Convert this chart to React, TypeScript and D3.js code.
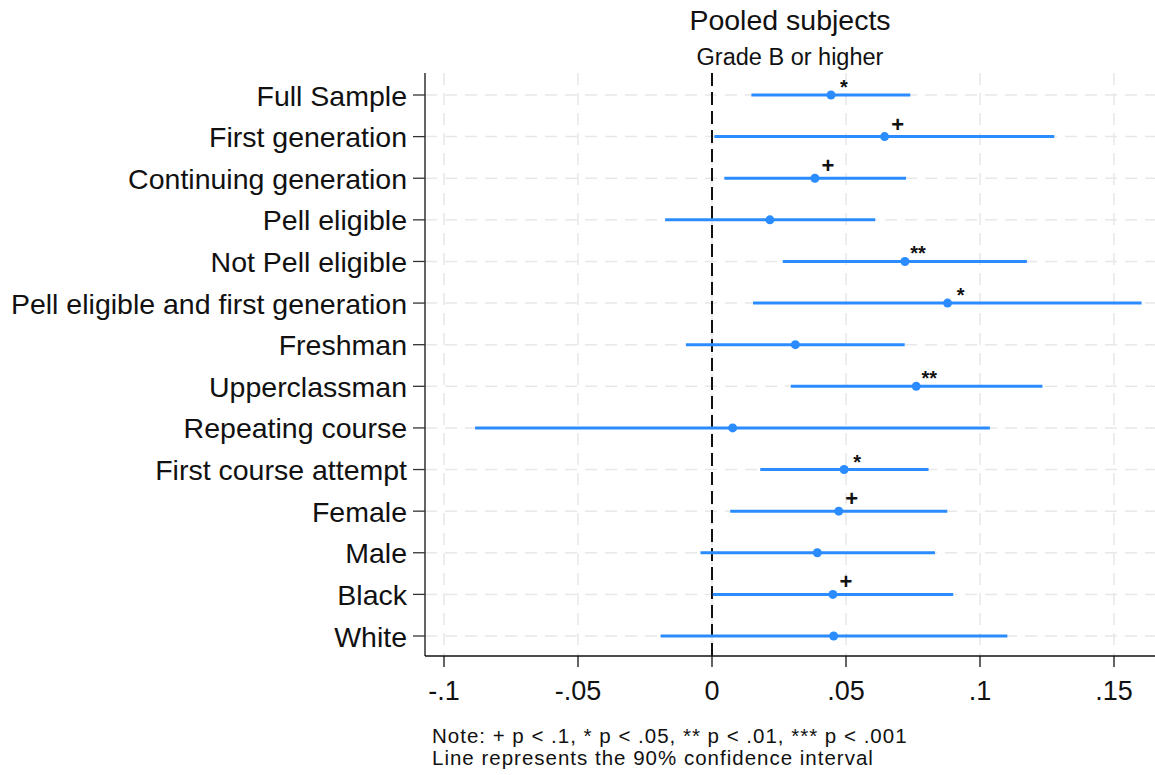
import React, { useRef, useEffect } from 'react';
import * as d3 from 'd3';

const groups = [
  'Full Sample',
  'First generation',
  'Continuing generation',
  'Pell eligible',
  'Not Pell eligible',
  'Pell eligible and first generation',
  'Freshman',
  'Upperclassman',
  'Repeating course',
  'First course attempt',
  'Female',
  'Male',
  'Black',
  'White',
];
const estimates = [0.0444, 0.0644, 0.0384, 0.0216, 0.072, 0.0879, 0.0311, 0.0762, 0.0077, 0.0493, 0.0473, 0.0393, 0.0451, 0.0454];
const ciLow = [0.0147, 0.0009, 0.0046, -0.0175, 0.0264, 0.0153, -0.0097, 0.0294, -0.0884, 0.018, 0.0068, -0.0043, 0.0003, -0.0192];
const ciHigh = [0.074, 0.1277, 0.0724, 0.0609, 0.1175, 0.1603, 0.0719, 0.1233, 0.1037, 0.0808, 0.0878, 0.0832, 0.09, 0.1102];
const stars = ['*', '+', '+', '', '**', '*', '', '**', '', '*', '+', '', '+', ''];
const xTicks = [-0.1, -0.05, 0, 0.05, 0.1, 0.15];
const xTickLabels = ['-.1', '-.05', '0', '.05', '.1', '.15'];
const noteLines = ['Note: + p < .1, * p < .05, ** p < .01, *** p < .001', 'Line represents the 90% confidence interval'];

const FONT = 'Liberation Sans, Arial, sans-serif';

export default function App() {
  const svgRef = useRef<SVGSVGElement>(null);

  useEffect(() => {
    if (!svgRef.current) return;
    const svg = d3.select(svgRef.current);
    svg.selectAll('*').remove();

    const left = 425;
    const right = 1155;
    const top = 73;
    const bottom = 656;

    const x = d3.scaleLinear().domain([-0.1, 0.15]).range([444, 1114]);
    const y = d3.scalePoint<string>().domain(groups).range([95, 636]);

    const rows = groups.map((g, i) => ({
      g,
      est: estimates[i],
      lo: ciLow[i],
      hi: ciHigh[i],
      star: stars[i],
    }));

    // grid
    const grid = svg.append('g');
    grid
      .selectAll('.vgrid')
      .data(xTicks)
      .enter()
      .append('line')
      .attr('x1', (d) => x(d))
      .attr('x2', (d) => x(d))
      .attr('y1', top)
      .attr('y2', bottom)
      .attr('stroke', '#e8e8e8')
      .attr('stroke-width', 1.5)
      .attr('stroke-dasharray', '12 8');
    grid
      .selectAll('.hgrid')
      .data(groups)
      .enter()
      .append('line')
      .attr('x1', left)
      .attr('x2', right)
      .attr('y1', (d) => y(d)!)
      .attr('y2', (d) => y(d)!)
      .attr('stroke', '#e8e8e8')
      .attr('stroke-width', 1.5)
      .attr('stroke-dasharray', '12 8');

    // zero line
    svg
      .append('line')
      .attr('x1', x(0))
      .attr('x2', x(0))
      .attr('y1', top)
      .attr('y2', bottom)
      .attr('stroke', '#111')
      .attr('stroke-width', 2)
      .attr('stroke-dasharray', '13 6');

    // CIs
    svg
      .selectAll('.ci')
      .data(rows)
      .enter()
      .append('line')
      .attr('x1', (d) => x(d.lo))
      .attr('x2', (d) => x(d.hi))
      .attr('y1', (d) => y(d.g)!)
      .attr('y2', (d) => y(d.g)!)
      .attr('stroke', '#2a8cff')
      .attr('stroke-width', 3);

    svg
      .selectAll('.pt')
      .data(rows)
      .enter()
      .append('circle')
      .attr('cx', (d) => x(d.est))
      .attr('cy', (d) => y(d.g)!)
      .attr('r', 4.5)
      .attr('fill', '#2a8cff');

    svg
      .selectAll('.star')
      .data(rows.filter((d) => d.star))
      .enter()
      .append('text')
      .attr('x', (d) => x(d.est) + 13)
      .attr('y', (d) => y(d.g)! - (d.star === '+' ? 5 : 1))
      .attr('text-anchor', 'middle')
      .attr('font-family', FONT)
      .attr('font-size', (d) => (d.star === '+' ? 22 : 20))
      .attr('font-weight', 'bold')
      .attr('fill', '#111')
      .text((d) => d.star);

    // axes
    const yAxis = svg.append('g').attr('transform', `translate(${left},0)`);
    yAxis
      .append('line')
      .attr('x1', 0)
      .attr('x2', 0)
      .attr('y1', top)
      .attr('y2', bottom)
      .attr('stroke', '#111')
      .attr('stroke-width', 1.3);
    yAxis
      .selectAll('.yt')
      .data(groups)
      .enter()
      .append('line')
      .attr('x1', -12)
      .attr('x2', 0)
      .attr('y1', (d) => y(d)!)
      .attr('y2', (d) => y(d)!)
      .attr('stroke', '#333')
      .attr('stroke-width', 1.3);
    yAxis
      .selectAll('.yl')
      .data(groups)
      .enter()
      .append('text')
      .attr('x', -18)
      .attr('y', (d) => y(d)! + 10.5)
      .attr('text-anchor', 'end')
      .attr('font-family', FONT)
      .attr('font-size', 28.5)
      .attr('fill', '#111')
      .text((d) => d);

    const xAxis = svg.append('g').attr('transform', `translate(0,${bottom})`);
    xAxis
      .append('line')
      .attr('x1', left)
      .attr('x2', right)
      .attr('stroke', '#111')
      .attr('stroke-width', 1.3);
    xAxis
      .selectAll('.xt')
      .data(xTicks)
      .enter()
      .append('line')
      .attr('x1', (d) => x(d))
      .attr('x2', (d) => x(d))
      .attr('y1', 0)
      .attr('y2', 11)
      .attr('stroke', '#111')
      .attr('stroke-width', 1.3);
    xAxis
      .selectAll('.xl')
      .data(xTicks)
      .enter()
      .append('text')
      .attr('x', (d) => x(d))
      .attr('y', 44)
      .attr('text-anchor', 'middle')
      .attr('font-family', FONT)
      .attr('font-size', 27)
      .attr('fill', '#111')
      .text((d, i) => xTickLabels[i]);

    // titles
    const cx = (left + right) / 2;
    svg
      .append('text')
      .attr('x', cx)
      .attr('y', 30)
      .attr('text-anchor', 'middle')
      .attr('font-family', FONT)
      .attr('font-size', 28.5)
      .attr('fill', '#111')
      .text('Pooled subjects');
    svg
      .append('text')
      .attr('x', cx)
      .attr('y', 65)
      .attr('text-anchor', 'middle')
      .attr('font-family', FONT)
      .attr('font-size', 23.5)
      .attr('fill', '#111')
      .text('Grade B or higher');

    // note
    svg
      .selectAll('.note')
      .data(noteLines)
      .enter()
      .append('text')
      .attr('x', 432)
      .attr('y', (d, i) => 743 + i * 22)
      .attr('font-family', FONT)
      .attr('font-size', 20.5)
      .attr('letter-spacing', 1)
      .attr('fill', '#111')
      .text((d) => d);
  }, []);

  return (
    <svg
      ref={svgRef}
      width={1155}
      height={775}
      style={{ position: 'absolute', left: 0, top: 0, background: '#fff' }}
    />
  );
}
